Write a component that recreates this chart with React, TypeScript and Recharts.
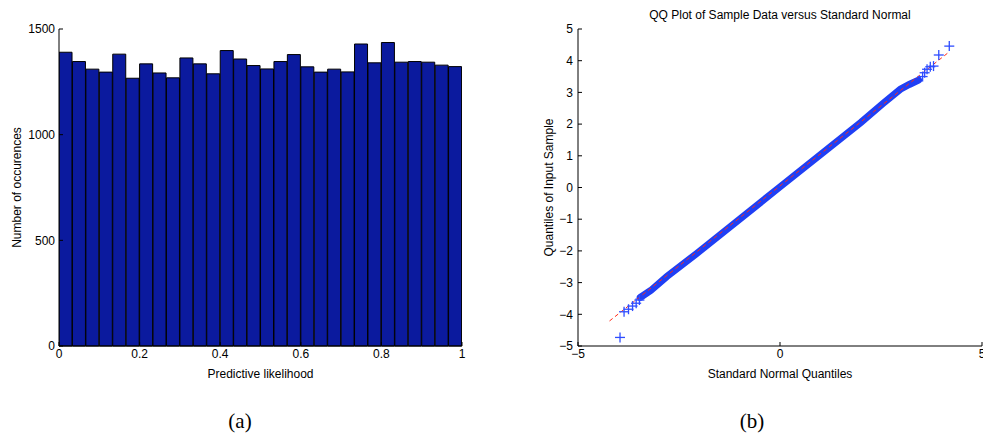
import React from 'react';
import { BarChart, Bar, XAxis, YAxis, ComposedChart, Line, Scatter } from 'recharts';

const FONT = '"Liberation Sans", Arial, Helvetica, sans-serif';

// (a) histogram
const binCenters = [0.0167, 0.05, 0.0833, 0.1167, 0.15, 0.1833, 0.2167, 0.25, 0.2833, 0.3167, 0.35, 0.3833, 0.4167, 0.45, 0.4833, 0.5167, 0.55, 0.5833, 0.6167, 0.65, 0.6833, 0.7167, 0.75, 0.7833, 0.8167, 0.85, 0.8833, 0.9167, 0.95, 0.9833];
const counts = [1390, 1346, 1310, 1296, 1381, 1267, 1335, 1292, 1269, 1363, 1335, 1288, 1398, 1358, 1327, 1311, 1346, 1379, 1321, 1296, 1310, 1297, 1429, 1340, 1436, 1343, 1346, 1343, 1329, 1322];
const histXTicks = [0, 0.2, 0.4, 0.6, 0.8, 1];
const histYTicks = [0, 500, 1000, 1500];

// (b) QQ plot
const bandX = [-3.46, -3.2, -2.8, -2.06, 0, 2.0, 2.56, 2.98, 3.2, 3.43];
const bandY = [-3.47, -3.25, -2.81, -2.08, 0.02, 2.05, 2.66, 3.1, 3.25, 3.39];
const tailX = [4.19, 3.93, 3.8, 3.72, 3.64, 3.58, 3.53, -3.96, -3.86, -3.75, -3.65, -3.56, -3.48];
const tailY = [4.46, 4.18, 3.83, 3.81, 3.73, 3.62, 3.5, -4.73, -3.92, -3.84, -3.74, -3.65, -3.55];
const refX = [-4.22, 4.16];
const refY = [-4.21, 4.25];
const qqXTicks = [-5, 0, 5];
const qqYTicks = [-5, -4, -3, -2, -1, 0, 1, 2, 3, 4, 5];

const histData = binCenters.map((x, i) => ({ x, count: counts[i] }));
const bandData = bandX.map((x, i) => ({ x, y: bandY[i] }));
const tailData = tailX.map((x, i) => ({ x, y: tailY[i] }));
const refData = refX.map((x, i) => ({ x, y: refY[i] }));

const tickStyle = { fill: '#000', fontSize: 12, fontFamily: FONT };
const minus = (v: number) => String(v).replace('-', '\u2212');

const Cross = (props: any) => {
  const { cx, cy } = props;
  return (
    <g stroke="#2e4dff" strokeWidth={1.3}>
      <line x1={cx - 5} y1={cy} x2={cx + 5} y2={cy} />
      <line x1={cx} y1={cy - 5} x2={cx} y2={cy + 5} />
    </g>
  );
};

export default function App() {
  return (
    <div style={{ position: 'absolute', left: 0, top: 0, width: 983, height: 436, background: '#fff', fontFamily: FONT }}>
      <div style={{ position: 'absolute', left: 0, top: 0 }}>
        <BarChart width={480} height={400} data={histData} margin={{ top: 29, right: 18, left: 0, bottom: 22 }} barCategoryGap={0} barGap={0}>
          <XAxis dataKey="x" type="number" domain={[0, 1]} ticks={histXTicks} allowDataOverflow
            tickSize={-4} tickMargin={7} height={32} tick={tickStyle} stroke="#000" interval={0}
            label={{ value: 'Predictive likelihood', position: 'insideBottom', offset: 0, fill: '#000', fontSize: 12, fontFamily: FONT }} />
          <XAxis xAxisId="top" orientation="top" type="number" domain={[0, 1]} ticks={histXTicks} height={0}
            tickSize={-4} tickFormatter={() => ''} stroke="#000" interval={0} />
          <YAxis type="number" domain={[0, 1500]} ticks={histYTicks} width={59} tickSize={-4} tickMargin={8}
            tick={tickStyle} stroke="#000" interval={0}
            label={{ value: 'Number of occurences', angle: -90, position: 'insideLeft', offset: 17, fill: '#000', fontSize: 12, fontFamily: FONT, style: { textAnchor: 'middle' } }} />
          <YAxis yAxisId="right" orientation="right" type="number" domain={[0, 1500]} ticks={histYTicks} width={0}
            tickSize={-4} tickFormatter={() => ''} stroke="#000" interval={0} />
          <Bar dataKey="count" fill="#0b1a9e" stroke="#000" strokeWidth={1} isAnimationActive={false} />
        </BarChart>
      </div>

      <div style={{ position: 'absolute', left: 578, top: 7, width: 404, textAlign: 'center', fontSize: 12, lineHeight: '16px', color: '#000' }}>
        QQ Plot of Sample Data versus Standard Normal
      </div>
      <div style={{ position: 'absolute', left: 520, top: 0 }}>
        <ComposedChart width={463} height={400} margin={{ top: 29, right: 1, left: 0, bottom: 22 }}>
          <XAxis dataKey="x" type="number" domain={[-5, 5]} ticks={qqXTicks} allowDataOverflow
            tickSize={-4} tickMargin={7} height={32} tick={tickStyle} stroke="#000" interval={0} tickFormatter={minus}
            label={{ value: 'Standard Normal Quantiles', position: 'insideBottom', offset: 0, fill: '#000', fontSize: 12, fontFamily: FONT }} />
          <XAxis xAxisId="top" orientation="top" type="number" domain={[-5, 5]} ticks={qqXTicks} height={0}
            tickSize={-4} tickFormatter={() => ''} stroke="#000" interval={0} />
          <YAxis type="number" domain={[-5, 5]} ticks={qqYTicks} width={58} tickSize={-4} tickMargin={9}
            tick={tickStyle} stroke="#000" interval={0} tickFormatter={minus} allowDataOverflow
            label={{ value: 'Quantiles of Input Sample', angle: -90, position: 'insideLeft', offset: 29, fill: '#000', fontSize: 12, fontFamily: FONT, style: { textAnchor: 'middle' } }} />
          <YAxis yAxisId="right" orientation="right" type="number" domain={[-5, 5]} ticks={qqYTicks} width={0}
            tickSize={-4} tickFormatter={() => ''} stroke="#000" interval={0} />
          <Line data={bandData} dataKey="y" stroke="#1f3ff5" strokeWidth={7} dot={false} isAnimationActive={false} strokeLinecap="round" />
          <Line data={refData} dataKey="y" stroke="#ff2a1a" strokeWidth={1} strokeDasharray="4 3" dot={false} isAnimationActive={false} />
          <Scatter data={tailData} dataKey="y" shape={<Cross />} isAnimationActive={false} />
        </ComposedChart>
      </div>

      <div style={{ position: 'absolute', left: 200, top: 407, width: 80, textAlign: 'center', fontSize: 21, lineHeight: '28px', fontFamily: '"Liberation Serif", "DejaVu Serif", serif', color: '#000' }}>(a)</div>
      <div style={{ position: 'absolute', left: 712, top: 407, width: 80, textAlign: 'center', fontSize: 21, lineHeight: '28px', fontFamily: '"Liberation Serif", "DejaVu Serif", serif', color: '#000' }}>(b)</div>
    </div>
  );
}
